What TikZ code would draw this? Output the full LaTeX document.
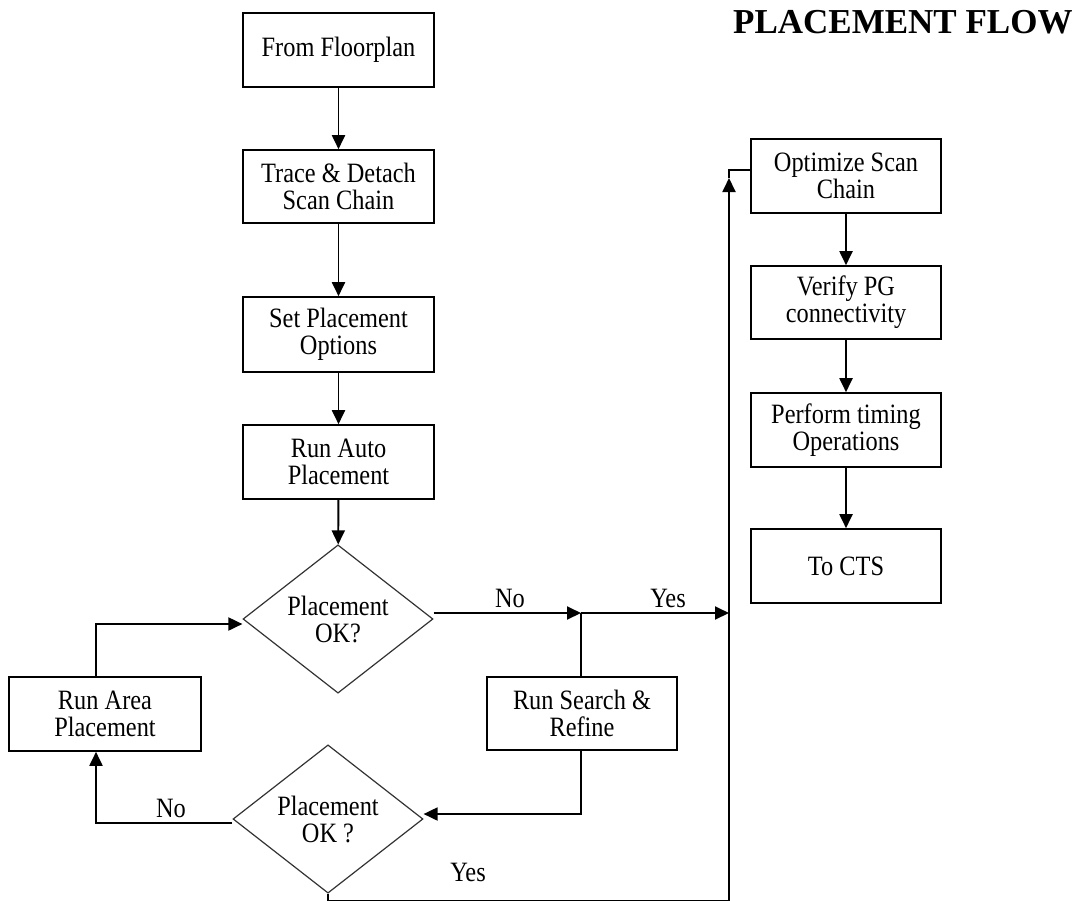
\documentclass[tikz,border=0pt]{standalone}
\usepackage{fontspec}
\setmainfont{Liberation Serif}
\newfontfamily\nodefont[FakeStretch=0.87]{Liberation Serif}
\usetikzlibrary{arrows.meta,shapes.geometric}
\begin{document}
\begin{tikzpicture}[x=1pt,y=-1pt,
  txt/.style={font=\nodefont\fontsize{28}{27}\selectfont},
  box/.style={draw, line width=1.6pt, minimum width=191pt, minimum height=74pt, inner sep=0pt, align=center, txt},
  dia/.style={draw, diamond, line width=1.2pt, draw=black!80, minimum width=190pt, minimum height=136pt, inner sep=0pt, align=center, txt},
  conn/.style={line width=1.9pt},
  arr/.style={conn, -{Triangle[length=14pt,width=13pt]}},
  lbl/.style={txt, inner sep=0pt}]
\useasboundingbox (0,0) rectangle (1078,900);
% title
\node[anchor=base west, inner sep=0pt, font=\fontsize{35}{38}\bfseries\selectfont] (title) at (733,33) {PLACEMENT FLOW};
% left column
\node[box] (ff) at (338.5,50) {From Floorplan};
\node[box, minimum height=73pt] (td) at (338.5,186.5) {Trace \& Detach\\Scan Chain};
\node[box, minimum height=75pt] (sp) at (338.5,334.5) {Set Placement\\Options};
\node[box] (ra) at (338.5,462) {Run Auto\\Placement};
\node[dia] (d1) at (338,619) {Placement\\OK?};
\node[box, minimum width=192pt] (area) at (105,714) {Run Area\\Placement};
\node[box, minimum width=190pt, minimum height=73pt] (srch) at (582,713.5) {Run Search \&\\Refine};
\node[dia] (d2) at (328,819) {Placement\\OK ?};
% right column
\node[box, minimum width=190pt] (opt) at (846,176) {Optimize Scan\\Chain};
\node[box, minimum width=190pt, minimum height=73pt] (ver) at (846,302.5) {Verify PG\\connectivity};
\node[box, minimum width=190pt] (perf) at (846,430) {Perform timing\\Operations};
\node[box, minimum width=190pt] (cts) at (846,566) {To CTS};
% coordinates
\coordinate (j1) at (581,613);
\coordinate (j2) at (729,613);
\coordinate (up) at (729,178);
% vertical flow
\draw[arr] (ff) -- (td);
\draw[arr] (td) -- (sp);
\draw[arr] (sp) -- (ra);
\draw[arr] (ra) -- (d1);
\draw[arr] (opt) -- (ver);
\draw[arr] (ver) -- (perf);
\draw[arr] (perf) -- (cts);
% d1 -> No -> junction -> Yes
\draw[arr] ([yshift=6pt]d1.east) -- (j1);
\draw[arr] (j1) -- (j2);
\node[lbl] (no1) at (510,598) {No};
\node[lbl] (yes1) at (668,598) {Yes};
\draw[conn] (srch.north -| j1) -- (j1);
% search -> d2
\draw[arr] (srch.south -| j1) |- ([yshift=5pt]d2.east);
% d2 yes -> up
\draw[arr] (d2.south) -- ++(0,7) -| (up);
\draw[conn] (up) -- (729,170) -- ([yshift=6pt]opt.west);
\node[lbl] (yes2) at (468,872) {Yes};
% d2 no -> area
\draw[arr] ([yshift=-4pt]d2.west) -| ([xshift=-9pt]area.south);
\node[lbl] (no2) at (171,808) {No};
% area -> d1
\draw[arr] ([xshift=-9pt]area.north) |- ([yshift=-5pt]d1.west);
\end{tikzpicture}
\end{document}
